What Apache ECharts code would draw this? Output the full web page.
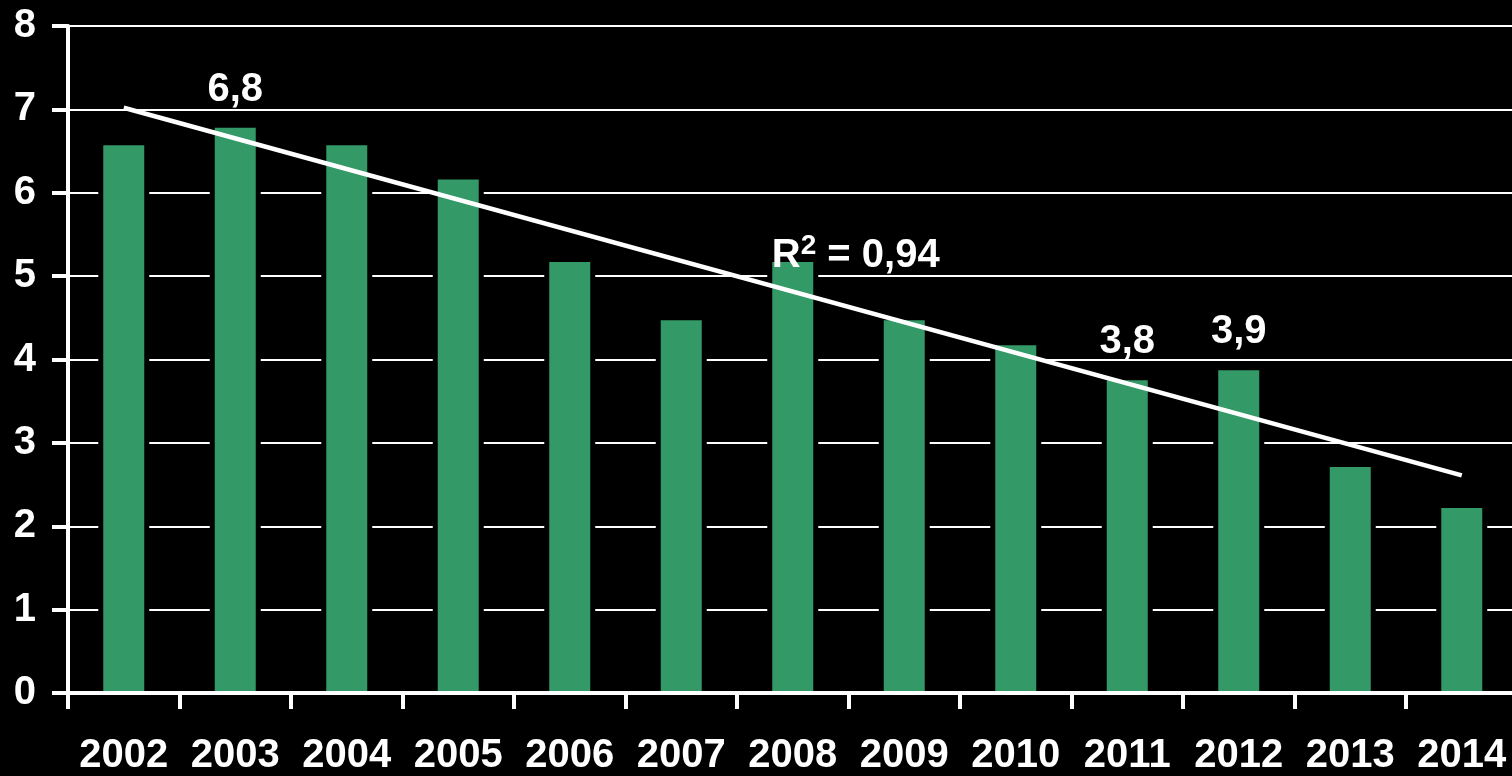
<!DOCTYPE html>
<html>
<head>
<meta charset="utf-8">
<script src="https://cdn.jsdelivr.net/npm/echarts@6/dist/echarts.min.js"></script>
<style>
html,body{margin:0;padding:0;background:#000;}
#chart{width:1512px;height:776px;}
</style>
</head>
<body>
<div id="chart"></div>
<script>
const years = ['2002','2003','2004','2005','2006','2007','2008','2009','2010','2011','2012','2013','2014'];
const values = [6.57, 6.78, 6.57, 6.16, 5.17, 4.47, 5.17, 4.47, 4.17, 3.75, 3.87, 2.71, 2.22];
const labelledYears = ['2003','2011','2012'];
const trendYears = ['2002','2014'];
const trendValues = [7.02, 2.61];
const rSquaredText = '0,94';
const rSquaredAnchor = ['2008', 5.24];

const FONT = '"Liberation Sans", Arial, sans-serif';
const FS = 40;
const chart = echarts.init(document.getElementById('chart'));
chart.setOption({
  backgroundColor: '#000',
  animation: false,
  grid: {left: 68, top: 26, width: 1449.5, height: 667, containLabel: false, outerBoundsMode: 'none'},
  xAxis: [{
    type: 'category',
    data: years,
    boundaryGap: true,
    z: 10,
    axisLine: {show: true, lineStyle: {color: '#fff', width: 4}},
    axisTick: {show: true, alignWithLabel: false, length: 16, lineStyle: {color: '#fff', width: 4}},
    axisLabel: {color: '#fff', fontFamily: FONT, fontWeight: 'bold', fontSize: FS, margin: 43, interval: 0},
    splitLine: {show: false}
  }, {
    type: 'category',
    data: years,
    show: false,
    boundaryGap: true
  }],
  yAxis: {
    type: 'value',
    min: 0, max: 8, interval: 1,
    axisLine: {show: true, lineStyle: {color: '#fff', width: 4}},
    axisTick: {show: true, length: 16, lineStyle: {color: '#fff', width: 4}},
    axisLabel: {color: '#fff', fontFamily: FONT, fontWeight: 'bold', fontSize: FS, margin: 32},
    splitLine: {show: true, lineStyle: {color: '#fff', width: 2}}
  },
  series: [
    {
      type: 'bar',
      xAxisIndex: 1,
      barWidth: 51,
      z: 1,
      silent: true,
      itemStyle: {color: '#000'},
      data: values
    },
    {
      type: 'bar',
      xAxisIndex: 0,
      barWidth: 41,
      z: 2,
      itemStyle: {color: '#339966'},
      label: {
        show: false, position: 'top', distance: 18, color: '#fff',
        fontFamily: FONT, fontWeight: 'bold', fontSize: FS,
        formatter: p => p.value.toFixed(1).replace('.', ',')
      },
      data: values.map((v, i) => ({value: v, label: {show: labelledYears.includes(years[i])}}))
    },
    {
      type: 'line',
      z: 5,
      symbol: 'none',
      lineStyle: {color: '#fff', width: 4.5},
      data: trendYears.map((y, i) => [y, trendValues[i]]),
      markPoint: {
        symbol: 'circle', symbolSize: 0,
        silent: true,
        data: [{coord: rSquaredAnchor}],
        label: {
          show: true, position: 'inside', align: 'left', offset: [-21, 0],
          formatter: '{a|R}{b|2}{a| = ' + rSquaredText + '}',
          rich: {
            a: {color: '#fff', fontFamily: FONT, fontWeight: 'bold', fontSize: FS, lineHeight: 48},
            b: {color: '#fff', fontFamily: FONT, fontWeight: 'bold', fontSize: 28, lineHeight: 28, verticalAlign: 'top'}
          }
        }
      }
    }
  ]
});
</script>
</body>
</html>
